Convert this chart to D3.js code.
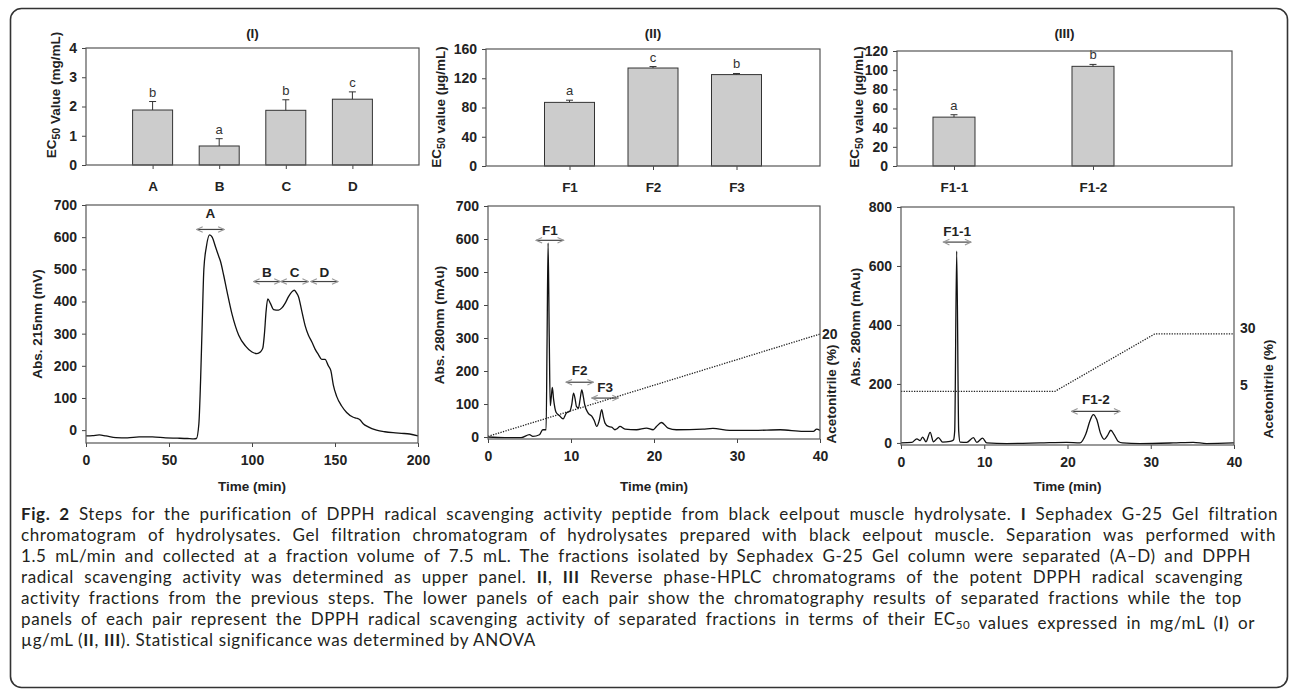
<!DOCTYPE html>
<html>
<head>
<meta charset="utf-8">
<script src="https://cdn.jsdelivr.net/npm/d3@7"></script>
<style>
  body { margin: 0; background: #fff; }
  svg { display: block; font-family: "Liberation Sans", Arial, sans-serif; }
</style>
</head>
<body>
<script>
// ---- bar data (EC50 values) ----
const catsI = ["A", "B", "C", "D"];
const ec50I = [1.88, 0.65, 1.87, 2.25];
const errI = [0.29, 0.25, 0.36, 0.25];
const sigI = ["b", "a", "b", "c"];

const catsII = ["F1", "F2", "F3"];
const ec50II = [87, 134, 125];
const errII = [3, 2, 1.5];
const sigII = ["a", "c", "b"];

const catsIII = ["F1-1", "F1-2"];
const ec50III = [51, 104];
const errIII = [2.5, 2];
const sigIII = ["a", "b"];

// ---- chromatograms [time, signal] ----
const gelTrace = [[0,-18],[4,-17],[8,-15],[12,-18],[18,-23],[25,-24],[32,-21],[40,-21],[48,-24],[55,-25],[61,-26],[65,-27],
  [66.5,-26],[68,20],[69,150],[70,330],[71,500],[72.5,570],[74.5,607],[76,600],[78,570],[80,540],[81,525],[83,480],[85,430],
  [88,360],[92,295],[96,262],[100,243],[103,238],[105,243],[106.5,255],[107.5,300],[108.5,370],[109.5,408],[111,395],[113,375],
  [116,373],[118,380],[120,395],[122,415],[124,430],[125.5,435],[127,425],[128,415],[130,370],[132,325],[134,295],[136,275],
  [138,252],[140,235],[142,220],[144,220],[146,200],[147.5,185],[149,140],[151,105],[154,75],[157,55],[161,40],[163,37],
  [165,32],[167,20],[170,10],[175,0],[180,-5],[185,-8],[190,-10],[195,-12],[200,-18]];

const hplcIITrace = [[0,0],[2,-2],[4,-2],[5,7],[5.4,2],[6.2,7],[6.6,22],[7.0,22],[7.12,300],[7.24,588],[7.38,300],[7.5,95],
  [7.62,120],[7.75,150],[7.9,115],[8.2,75],[8.6,65],[9.05,55],[9.45,73],[9.85,78],[10.1,100],[10.3,133],[10.5,115],[10.65,93],
  [10.9,88],[11.1,115],[11.3,143],[11.5,120],[11.65,98],[12.05,73],[12.5,63],[12.8,50],[13.1,32],[13.4,50],[13.7,83],[13.9,60],
  [14.1,42],[14.5,32],[14.9,30],[15.3,22],[15.6,26],[15.9,32],[16.5,24],[17.9,22],[19.1,27],[19.9,22],[20.3,32],[20.9,44],
  [21.7,27],[22.7,22],[25.9,24],[27.1,26],[29.1,20],[32,20],[35.2,22],[38,17],[39.2,17],[39.6,24],[40,20]];

const hplcIIITrace = [[0,0],[1.3,2],[1.9,14],[2.3,8],[2.6,20],[3.0,4],[3.5,36],[3.9,4],[4.5,18],[5.0,3],[5.9,5],[6.3,10],
  [6.45,40],[6.69,650],[6.93,40],[7.1,3],[7.9,2],[8.7,18],[9.1,2],[9.8,16],[10.3,0],[12.7,-2],[16.7,0],[19.9,2],[21.5,0],
  [22.2,30],[22.7,75],[23.1,96],[23.5,80],[24.0,30],[24.4,12],[24.8,25],[25.2,43],[25.6,28],[26.1,5],[26.6,0],[28.7,-2],
  [32.7,0],[35.1,2],[36.7,-2],[40,0]];

// acetonitrile gradient [time, %]
const gradII = [[0,0],[40,20]];
const gradIII = [[0,5],[18.5,5],[30.5,30],[40,30]];

// collected fractions [label, start, end, arrow level, label level]
const fracI = [["A",66.7,83.2,624,675],["B",101,117,462,492],["C",117.4,134,462,492],["D",135.5,151.8,462,492]];
const fracII = [["F1",5.8,9.1,596,627],["F2",9.4,12.7,166,203],["F3",12.5,15.7,118,152]];
const fracIII = [["F1-1",5.1,8.4,681,716],["F1-2",20.5,26.3,107,149]];

const ticksI = [0, 1, 2, 3, 4];
const ticksII = [0, 40, 80, 120, 160];
const ticksIII = [0, 20, 40, 60, 80, 100, 120];

const svg = d3.select("body").append("svg").attr("width", 1290).attr("height", 691);

svg.append("rect")
  .attr("x", 10.5).attr("y", 8.5).attr("width", 1277).attr("height", 679).attr("rx", 11)
  .attr("fill", "none").attr("stroke", "#333").attr("stroke-width", 1.6);

const defs = svg.append("defs");
defs.append("marker").attr("id", "head")
  .attr("viewBox", "0 0 8 8").attr("refX", 7).attr("refY", 4)
  .attr("markerWidth", 8).attr("markerHeight", 8).attr("markerUnits", "userSpaceOnUse")
  .attr("orient", "auto-start-reverse")
  .append("path").attr("d", "M1,1.2 L7,4 L1,6.8").attr("fill", "none").attr("stroke", "#999").attr("stroke-width", 1.1);

function styleAxis(ax, size) {
  ax.select(".domain").remove();
  ax.selectAll("line").attr("stroke", "#444");
  ax.selectAll("text").attr("font-size", size).attr("font-weight", "bold").attr("fill", "#222")
    .attr("font-family", "'Liberation Sans', Arial, sans-serif");
}

function yTitle(x, y, parts) {
  const t = svg.append("text")
    .attr("transform", "translate(" + x + "," + y + ") rotate(-90)")
    .attr("text-anchor", "middle").attr("dy", "0.35em")
    .attr("font-size", 13.5).attr("font-weight", "bold").attr("fill", "#222");
  parts.forEach(function(p) {
    if (p.sub) {
      t.append("tspan").attr("dy", 4).attr("font-size", 10.5).text(p.sub);
      t.append("tspan").attr("dy", -4).text("");
    } else {
      t.append("tspan").text(p.t);
    }
  });
}

function barPanel(o) {
  const x = d3.scaleLinear().domain(o.xDomain).range([o.x0, o.x1]);
  const y = d3.scaleLinear().domain(o.yDomain).range([o.y1, o.y0]);
  const g = svg.append("g");
  const idx = o.cats.map(function(d, i) { return i; });

  g.selectAll(".bar").data(idx).enter().append("rect")
    .attr("x", function(i) { return x(i + 1) - o.bw / 2; })
    .attr("y", function(i) { return y(o.vals[i]); })
    .attr("width", o.bw)
    .attr("height", function(i) { return y(0) - y(o.vals[i]); })
    .attr("fill", "#cccccc").attr("stroke", "#333").attr("stroke-width", 1);

  g.selectAll(".err").data(idx).enter().append("path")
    .attr("d", function(i) {
      const cx = x(i + 1), top = y(o.vals[i] + o.errs[i]);
      return "M" + cx + "," + y(o.vals[i]) + "V" + top + "M" + (cx - 3.5) + "," + top + "H" + (cx + 3.5);
    })
    .attr("stroke", "#333").attr("fill", "none").attr("stroke-width", 1);

  g.selectAll(".sig").data(idx).enter().append("text")
    .attr("x", function(i) { return x(i + 1); })
    .attr("y", function(i) { return y(o.vals[i] + o.errs[i]) - 5; })
    .attr("text-anchor", "middle").attr("font-size", 13).attr("fill", "#333")
    .text(function(i) { return o.sig[i]; });

  g.append("g").attr("transform", "translate(0," + o.y1 + ")")
    .call(d3.axisBottom(x).tickValues(idx.map(function(i) { return i + 1; }))
      .tickFormat(function(d) { return o.cats[d - 1]; }).tickSize(4).tickPadding(12))
    .call(styleAxis, 13.5);

  g.append("g").attr("transform", "translate(" + o.x0 + ",0)")
    .call(d3.axisLeft(y).tickValues(o.ticks).tickFormat(function(d) { return String(d); }).tickSize(4).tickPadding(5))
    .call(styleAxis, 14);

  g.append("rect").attr("x", o.x0).attr("y", o.y0).attr("width", o.x1 - o.x0).attr("height", o.y1 - o.y0)
    .attr("fill", "none").attr("stroke", "#555").attr("stroke-width", 1.2);

  svg.append("text").attr("x", (o.x0 + o.x1) / 2).attr("y", 38)
    .attr("text-anchor", "middle").attr("font-size", 13.5).attr("font-weight", "bold").attr("fill", "#222")
    .text(o.title);
}

function chromPanel(o) {
  const x = d3.scaleLinear().domain(o.xDomain).range([o.x0, o.x1]);
  const y = d3.scaleLinear().domain(o.yDomain).range([o.y1, o.y0]);
  const g = svg.append("g");

  g.append("path").datum(o.trace)
    .attr("d", d3.line().x(function(d) { return x(d[0]); }).y(function(d) { return y(d[1]); }).curve(d3.curveMonotoneX))
    .attr("fill", "none").attr("stroke", "#111").attr("stroke-width", 1.3);

  if (o.grad) {
    const yR = d3.scaleLinear().domain(o.rDomain).range([y(o.rLevels[0]), y(o.rLevels[1])]);
    g.append("path").datum(o.grad)
      .attr("d", d3.line().x(function(d) { return x(d[0]); }).y(function(d) { return yR(d[1]); }))
      .attr("fill", "none").attr("stroke", "#222").attr("stroke-width", 1.3).attr("stroke-dasharray", "1.3,1.3");
    const ax = g.append("g").attr("transform", "translate(" + o.x1 + ",0)")
      .call(d3.axisRight(yR).tickValues(o.rTicks).tickSize(0).tickPadding(o.rPad));
    ax.call(styleAxis, 14);
    ax.selectAll("text").attr("dy", o.rDy);
    svg.append("text")
      .attr("transform", "translate(" + o.rTitleX + "," + o.rTitleY + ") rotate(-90)")
      .attr("text-anchor", "middle").attr("dy", "0.35em")
      .attr("font-size", 13.5).attr("font-weight", "bold").attr("fill", "#222").text("Acetonitrile (%)");
  }

  o.fracs.forEach(function(f) {
    g.append("line").attr("x1", x(f[1])).attr("x2", x(f[2])).attr("y1", y(f[3])).attr("y2", y(f[3]))
      .attr("stroke", "#444").attr("stroke-width", 1.2)
      .attr("marker-start", "url(#head)").attr("marker-end", "url(#head)");
    g.append("text").attr("x", x((f[1] + f[2]) / 2)).attr("y", y(f[4])).attr("dy", "0.35em")
      .attr("text-anchor", "middle").attr("font-size", 13.5).attr("font-weight", "bold").attr("fill", "#222")
      .text(f[0]);
  });

  g.append("g").attr("transform", "translate(0," + o.y1 + ")")
    .call(d3.axisBottom(x).tickValues(o.xTicks).tickSize(4).tickPadding(8))
    .call(styleAxis, 14);
  g.append("g").attr("transform", "translate(" + o.x0 + ",0)")
    .call(d3.axisLeft(y).tickValues(o.yTicks).tickSize(4).tickPadding(5))
    .call(styleAxis, 14);

  g.append("rect").attr("x", o.x0).attr("y", o.y0).attr("width", o.x1 - o.x0).attr("height", o.y1 - o.y0)
    .attr("fill", "none").attr("stroke", "#555").attr("stroke-width", 1.2);

  svg.append("text").attr("x", (o.x0 + o.x1) / 2).attr("y", 491)
    .attr("text-anchor", "middle").attr("font-size", 13.5).attr("font-weight", "bold").attr("fill", "#222")
    .text("Time (min)");
}

// top row
barPanel({ title: "(I)", cats: catsI, vals: ec50I, errs: errI, sig: sigI, ticks: ticksI,
  xDomain: [0, 5], yDomain: [0, 4], x0: 86, x1: 419, y0: 48, y1: 165, bw: 40 });
barPanel({ title: "(II)", cats: catsII, vals: ec50II, errs: errII, sig: sigII, ticks: ticksII,
  xDomain: [0, 4], yDomain: [0, 160], x0: 486, x1: 820, y0: 49, y1: 166, bw: 50 });
barPanel({ title: "(III)", cats: catsIII, vals: ec50III, errs: errIII, sig: sigIII, ticks: ticksIII,
  xDomain: [0.59, 3.0], yDomain: [0, 120], x0: 897, x1: 1232, y0: 51, y1: 166, bw: 42 });

yTitle(51, 95, [{ t: "EC" }, { sub: "50" }, { t: " Value (mg/mL)" }]);
yTitle(436, 107, [{ t: "EC" }, { sub: "50" }, { t: " value (\u00b5g/mL)" }]);
yTitle(854, 107, [{ t: "EC" }, { sub: "50" }, { t: " value (\u00b5g/mL)" }]);

// bottom row
chromPanel({ trace: gelTrace, fracs: fracI, xDomain: [0, 200], yDomain: [-40, 700],
  xTicks: [0, 50, 100, 150, 200], yTicks: d3.range(0, 701, 100),
  x0: 86, x1: 418, y0: 205, y1: 443 });
chromPanel({ trace: hplcIITrace, fracs: fracII, xDomain: [0, 40], yDomain: [-6, 700],
  xTicks: [0, 10, 20, 30, 40], yTicks: d3.range(0, 701, 100),
  x0: 488, x1: 820, y0: 206, y1: 439,
  grad: gradII, rDomain: [0, 20], rLevels: [2, 312], rTicks: [20], rPad: 2, rDy: "0.32em", rTitleX: 831, rTitleY: 394 });
chromPanel({ trace: hplcIIITrace, fracs: fracIII, xDomain: [0, 40], yDomain: [-7, 800],
  xTicks: [0, 10, 20, 30, 40], yTicks: d3.range(0, 801, 200),
  x0: 901, x1: 1234, y0: 207, y1: 445,
  grad: gradIII, rDomain: [5, 30], rLevels: [175, 370], rTicks: [5, 30], rPad: 6, rDy: "-0.1em", rTitleX: 1268, rTitleY: 389 });

yTitle(37, 324, [{ t: "Abs. 215nm (mV)" }]);
yTitle(439, 325, [{ t: "Abs. 280nm (mAu)" }]);
yTitle(855, 327, [{ t: "Abs. 280nm (mAu)" }]);

// caption
const captionLines = [
  [["Fig. 2", "b"], [" Steps for the purification of DPPH radical scavenging activity peptide from black eelpout muscle hydrolysate. "], ["I", "b"], [" Sephadex G-25 Gel filtration"]],
  [["chromatogram of hydrolysates. Gel filtration chromatogram of hydrolysates prepared with black eelpout muscle. Separation was performed with"]],
  [["1.5 mL/min and collected at a fraction volume of 7.5 mL. The fractions isolated by Sephadex G-25 Gel column were separated (A\u2013D) and DPPH"]],
  [["radical scavenging activity was determined as upper panel. "], ["II", "b"], [", "], ["III", "b"], [" Reverse phase-HPLC chromatograms of the potent DPPH radical scavenging"]],
  [["activity fractions from the previous steps. The lower panels of each pair show the chromatography results of separated fractions while the top"]],
  [["panels of each pair represent the DPPH radical scavenging activity of separated fractions in terms of their EC"], ["50", "s"], [" values expressed in mg/mL ("], ["I", "b"], [") or"]],
  [["\u00b5g/mL ("], ["II", "b"], [", "], ["III", "b"], ["). Statistical significance was determined by ANOVA"]]
];
// right end of each wrapped line (the last line is left ragged)
const captionEnds = [1278, 1276, 1251, 1243, 1242, 1255, null];

const cap = svg.append("g").attr("font-family", "Lato, 'Open Sans', sans-serif").attr("font-size", 17)
  .attr("letter-spacing", 0.6).attr("fill", "#231f20");
captionLines.forEach(function(line, i) {
  const t = cap.append("text").attr("x", 21).attr("y", 520 + i * 21);
  line.forEach(function(p) {
    if (p[1] === "s") {
      t.append("tspan").attr("dy", 4).attr("font-size", 11.5).text(p[0]);
      t.append("tspan").attr("dy", -4).text("");
    } else {
      t.append("tspan").attr("font-weight", p[1] === "b" ? "bold" : null).text(p[0]);
    }
  });
  if (captionEnds[i]) {
    const spaces = line.map(function(p) { return p[0]; }).join("").split(" ").length - 1;
    const extra = captionEnds[i] - 21 - t.node().getComputedTextLength();
    if (spaces > 0 && extra > 0) t.attr("word-spacing", extra / spaces);
  }
});
</script>
</body>
</html>
